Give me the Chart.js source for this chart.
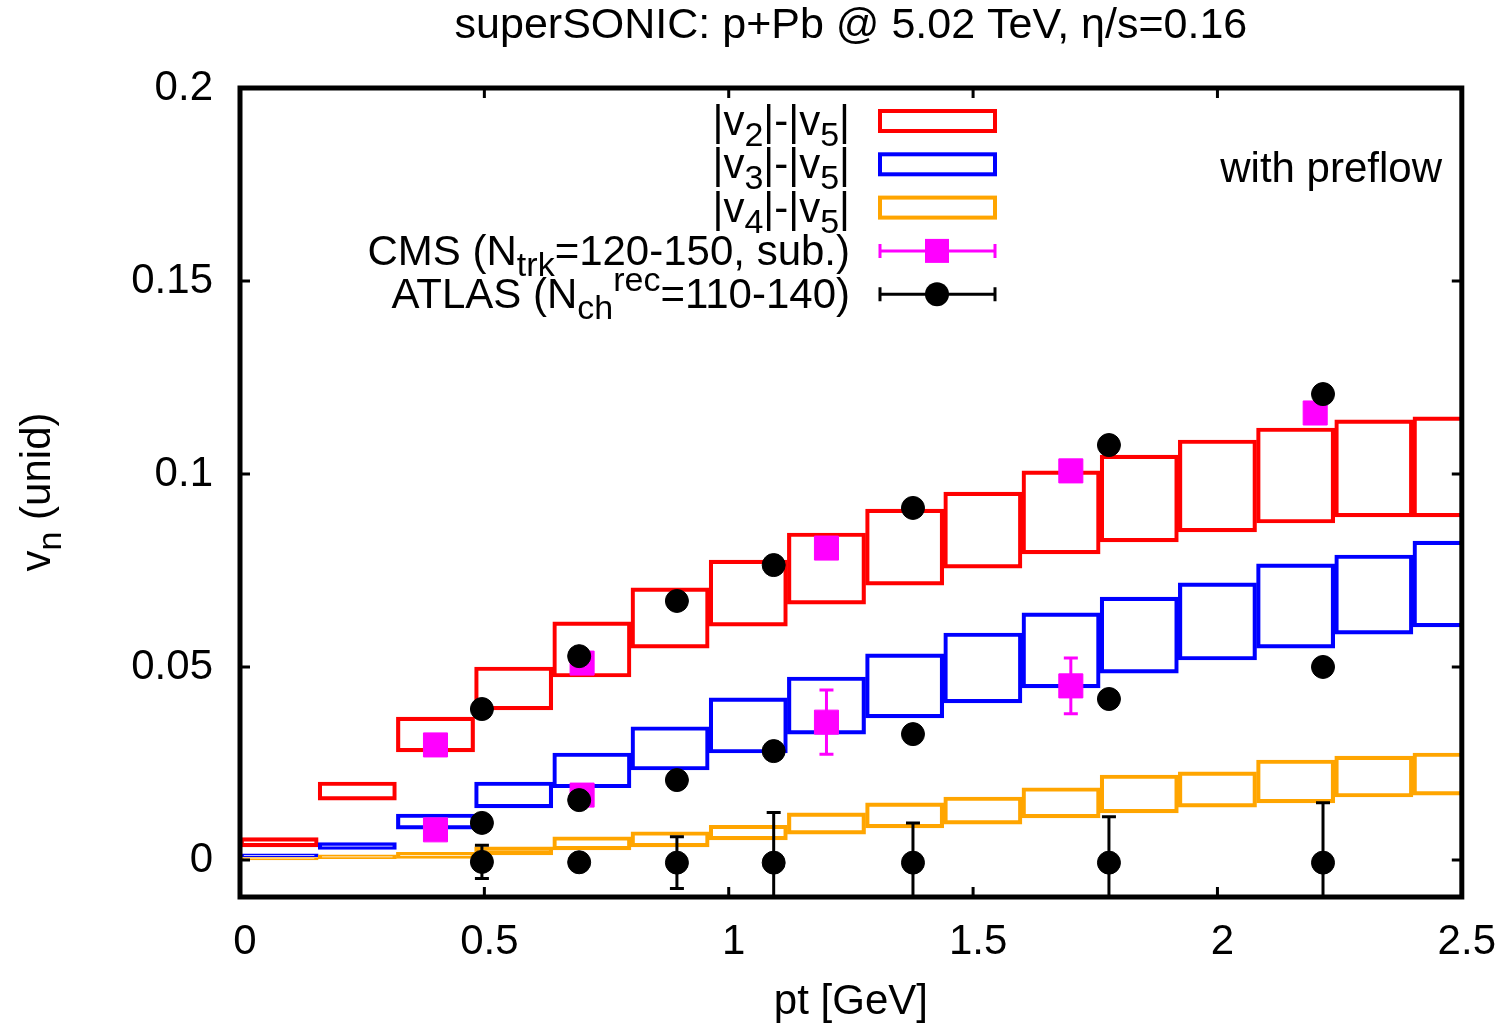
<!DOCTYPE html>
<html>
<head>
<meta charset="utf-8">
<title>superSONIC p+Pb vn</title>
<script src="https://cdn.jsdelivr.net/npm/chart.js@4.4.1/dist/chart.umd.min.js"></script>
<style>
  html, body { margin: 0; padding: 0; background: #ffffff; }
  #wrap { width: 1503px; height: 1028px; }
</style>
</head>
<body>
<div id="wrap"><canvas id="c" width="1503" height="1028"></canvas></div>
<script>
// pt bin centres of the hydro output (bin width 0.16 GeV)
const ptBins = [0.08, 0.24, 0.40, 0.56, 0.72, 0.88, 1.04, 1.20, 1.36, 1.52, 1.68, 1.84, 2.00, 2.16, 2.32, 2.48];

// model bands: lower / upper edge per bin
const v2Lo = [0.0034, 0.0155, 0.0280, 0.0389, 0.0474, 0.0549, 0.0606, 0.0663, 0.0712, 0.0756, 0.0793, 0.0824, 0.0850, 0.0873, 0.0889, 0.0889];
const v2Hi = [0.0058, 0.0202, 0.0370, 0.0500, 0.0617, 0.0705, 0.0777, 0.0847, 0.0909, 0.0953, 0.1008, 0.1049, 0.1088, 0.1119, 0.1140, 0.1148];
const v3Lo = [0.0008, 0.0027, 0.0080, 0.0135, 0.0187, 0.0233, 0.0277, 0.0326, 0.0368, 0.0407, 0.0446, 0.0484, 0.0518, 0.0549, 0.0585, 0.0604];
const v3Hi = [0.0016, 0.0045, 0.0119, 0.0202, 0.0277, 0.0345, 0.0420, 0.0474, 0.0534, 0.0588, 0.0640, 0.0681, 0.0718, 0.0767, 0.0790, 0.0826];
const v4Lo = [0.0000, 0.0003, 0.0004, 0.0013, 0.0026, 0.0034, 0.0052, 0.0067, 0.0083, 0.0093, 0.0109, 0.0122, 0.0137, 0.0148, 0.0163, 0.0168];
const v4Hi = [0.0006, 0.0013, 0.0020, 0.0034, 0.0060, 0.0073, 0.0090, 0.0122, 0.0148, 0.0163, 0.0187, 0.0220, 0.0228, 0.0259, 0.0269, 0.0277];

// CMS (Ntrk = 120-150, subtracted)
const cmsPtV2 = [0.4, 0.7, 1.2, 1.7, 2.2];
const cmsV2 = [0.0298, 0.0510, 0.0808, 0.1008, 0.1158];
const cmsV2Err = [0, 0, 0, 0, 0];
const cmsPtV3 = [0.4, 0.7, 1.2, 1.7];
const cmsV3 = [0.0078, 0.0168, 0.0357, 0.0451];
const cmsV3Err = [0, 0, 0.0083, 0.0072];

// ATLAS (Nch rec = 110-140)
const atlasPt = [0.495, 0.694, 0.894, 1.092, 1.377, 1.778, 2.216];
const atlasV2 = [0.0391, 0.0528, 0.0671, 0.0764, 0.0912, 0.1075, 0.1207];
const atlasV3 = [0.0096, 0.0155, 0.0207, 0.0282, 0.0326, 0.0417, 0.0500];
const atlasV4 = [-0.0005, -0.0006, -0.0007, -0.0007, -0.0007, -0.0007, -0.0007];
const atlasV4Err = [0.0043, 0.0015, 0.0067, 0.0130, 0.0103, 0.0119, 0.0155];
const atlasZeroErr = [0, 0, 0, 0, 0, 0, 0];

// axes
const xTicks = [0, 0.5, 1, 1.5, 2, 2.5];
const xTickLabels = ['0', '0.5', '1', '1.5', '2', '2.5'];
const yTicks = [0, 0.05, 0.1, 0.15, 0.2];
const yTickLabels = ['0', '0.05', '0.1', '0.15', '0.2'];

const RED = '#ff0000', BLUE = '#0000ff', ORANGE = '#ffa500', MAGENTA = '#ff00ff', BLACK = '#000000';
const FONT = '"Liberation Sans", Arial, Helvetica, sans-serif';
const FS = 42;

function band(label, lo, hi, color, order) {
  return {
    type: 'bar', label, order,
    data: ptBins.map((x, i) => ({ x, y: [lo[i], hi[i]] })),
    backgroundColor: 'rgba(0,0,0,0)',
    borderColor: color, borderWidth: 3.5, borderSkipped: false,
    grouped: false, barPercentage: 1, categoryPercentage: 1
  };
}
function points(label, xs, ys, errs, style, radius, color, order) {
  return {
    type: 'scatter', label, order,
    data: xs.map((x, i) => ({ x, y: ys[i] })),
    errorBars: errs,
    pointStyle: style, pointRadius: radius, pointHoverRadius: radius,
    backgroundColor: color, borderColor: color, borderWidth: 1
  };
}

// rich text: parts = [[text, kind]] kind 0 normal, 1 subscript, 2 superscript
function partFont(kind) { return (kind ? Math.round(FS * 0.8) : FS) + 'px ' + FONT; }
function richWidth(ctx, parts) {
  let w = 0;
  for (const [t, k] of parts) { ctx.font = partFont(k); w += ctx.measureText(t).width; }
  return w;
}
function drawRich(ctx, parts, x, baseline) {
  ctx.textAlign = 'left';
  ctx.textBaseline = 'alphabetic';
  for (const [t, k] of parts) {
    ctx.font = partFont(k);
    const dy = k === 1 ? 11 : (k === 2 ? -17 : 0);
    ctx.fillText(t, x, baseline + dy);
    x += ctx.measureText(t).width;
  }
}

const legendRows = [
  { parts: [['|v', 0], ['2', 1], ['|-|v', 0], ['5', 1], ['|', 0]], kind: 'box', color: RED },
  { parts: [['|v', 0], ['3', 1], ['|-|v', 0], ['5', 1], ['|', 0]], kind: 'box', color: BLUE },
  { parts: [['|v', 0], ['4', 1], ['|-|v', 0], ['5', 1], ['|', 0]], kind: 'box', color: ORANGE },
  { parts: [['CMS (N', 0], ['trk', 1], ['=120-150, sub.)', 0]], kind: 'rect', color: MAGENTA },
  { parts: [['ATLAS (N', 0], ['ch', 1], ['rec', 2], ['=110-140)', 0]], kind: 'circle', color: BLACK }
];

const framePlugin = {
  id: 'frame',
  beforeDatasetDraw(chart, args) {
    const ds = chart.data.datasets[args.index];
    if (!ds.errorBars) return;
    const { ctx, chartArea: a, scales: { x, y } } = chart;
    ctx.save();
    ctx.beginPath(); ctx.rect(a.left, a.top, a.right - a.left, a.bottom - a.top); ctx.clip();
    ctx.strokeStyle = ds.borderColor; ctx.lineWidth = 3;
    ds.data.forEach((p, i) => {
      const e = ds.errorBars[i];
      if (!e) return;
      const px = x.getPixelForValue(p.x);
      const yt = y.getPixelForValue(p.y + e), yb = y.getPixelForValue(p.y - e);
      ctx.beginPath();
      ctx.moveTo(px, yt); ctx.lineTo(px, yb);
      ctx.moveTo(px - 7, yt); ctx.lineTo(px + 7, yt);
      ctx.moveTo(px - 7, yb); ctx.lineTo(px + 7, yb);
      ctx.stroke();
    });
    ctx.restore();
  },
  afterDatasetsDraw(chart) {
    const { ctx, chartArea: a, scales: { x, y } } = chart;
    ctx.save();
    // inward tick marks on all four sides
    ctx.strokeStyle = BLACK; ctx.lineWidth = 3;
    const tl = 10;
    ctx.beginPath();
    xTicks.forEach(v => {
      const px = x.getPixelForValue(v);
      ctx.moveTo(px, a.bottom); ctx.lineTo(px, a.bottom - tl);
      ctx.moveTo(px, a.top); ctx.lineTo(px, a.top + tl);
    });
    yTicks.forEach(v => {
      const py = y.getPixelForValue(v);
      ctx.moveTo(a.left, py); ctx.lineTo(a.left + tl, py);
      ctx.moveTo(a.right, py); ctx.lineTo(a.right - tl, py);
    });
    ctx.stroke();
    // plot border
    ctx.lineWidth = 5;
    ctx.strokeRect(a.left, a.top, a.right - a.left, a.bottom - a.top);
    ctx.restore();
  },
  afterDraw(chart) {
    const { ctx } = chart;
    ctx.save();
    ctx.fillStyle = BLACK;
    // key
    const textRight = 850, sx0 = 880, sx1 = 995, sxm = 937;
    legendRows.forEach((row, i) => {
      const cy = 121 + i * 43.3;
      const w = richWidth(ctx, row.parts);
      ctx.fillStyle = BLACK;
      drawRich(ctx, row.parts, textRight - w, cy + 14);
      if (row.kind === 'box') {
        ctx.strokeStyle = row.color; ctx.lineWidth = 4;
        ctx.strokeRect(sx0, cy - 10, sx1 - sx0, 20);
      } else {
        ctx.strokeStyle = row.color; ctx.fillStyle = row.color; ctx.lineWidth = 3;
        ctx.beginPath();
        ctx.moveTo(sx0, cy); ctx.lineTo(sx1, cy);
        ctx.moveTo(sx0, cy - 7); ctx.lineTo(sx0, cy + 7);
        ctx.moveTo(sx1, cy - 7); ctx.lineTo(sx1, cy + 7);
        ctx.stroke();
        ctx.beginPath();
        if (row.kind === 'rect') ctx.rect(sxm - 12, cy - 12, 24, 24);
        else ctx.arc(sxm, cy, 12, 0, Math.PI * 2);
        ctx.fill();
      }
    });
    // annotation
    ctx.fillStyle = BLACK;
    ctx.font = FS + 'px ' + FONT;
    ctx.textAlign = 'right'; ctx.textBaseline = 'alphabetic';
    ctx.fillText('with preflow', 1442, 182);
    // y-axis title with subscript
    const yParts = [['v', 0], ['n', 1], [' (unid)', 0]];
    const yw = richWidth(ctx, yParts);
    ctx.translate(50, 492);
    ctx.rotate(-Math.PI / 2);
    drawRich(ctx, yParts, -yw / 2, 0);
    ctx.restore();
  }
};

new Chart(document.getElementById('c'), {
  type: 'bar',
  data: {
    datasets: [
      points('ATLAS v2', atlasPt, atlasV2, atlasZeroErr, 'circle', 11.5, BLACK, 0),
      points('ATLAS v3', atlasPt, atlasV3, atlasZeroErr, 'circle', 11.5, BLACK, 0),
      points('ATLAS v4', atlasPt, atlasV4, atlasV4Err, 'circle', 11.5, BLACK, 0),
      points('CMS v2', cmsPtV2, cmsV2, cmsV2Err, 'rect', 17, MAGENTA, 1),
      points('CMS v3', cmsPtV3, cmsV3, cmsV3Err, 'rect', 17, MAGENTA, 1),
      band('|v4|-|v5|', v4Lo, v4Hi, ORANGE, 2),
      band('|v3|-|v5|', v3Lo, v3Hi, BLUE, 3),
      band('|v2|-|v5|', v2Lo, v2Hi, RED, 4)
    ]
  },
  options: {
    responsive: false,
    animation: false,
    events: [],
    layout: { padding: { left: 0, right: 41, top: 0, bottom: 0 } },
    plugins: {
      legend: { display: false },
      tooltip: { enabled: false },
      title: {
        display: true, fullSize: false,
        text: 'superSONIC: p+Pb @ 5.02 TeV, η/s=0.16',
        color: BLACK, font: { family: FONT, size: 43, weight: 'normal', lineHeight: 1.2 },
        padding: { top: 0, bottom: 36.4 }
      }
    },
    scales: {
      x: {
        type: 'linear', min: 0, max: 2.5, offset: false,
        grid: { display: false, offset: false },
        border: { display: false },
        afterBuildTicks: s => { s.ticks = xTicks.map(v => ({ value: v })); },
        afterFit: s => { s.height = 131; },
        ticks: {
          color: BLACK, padding: 12, labelOffset: 5, maxRotation: 0, autoSkip: false,
          font: { family: FONT, size: FS },
          callback: (v, i) => xTickLabels[i]
        },
        title: {
          display: true, text: 'pt [GeV]', color: BLACK,
          font: { family: FONT, size: FS, lineHeight: 1.2 },
          padding: { top: 0, bottom: 0 }
        }
      },
      y: {
        type: 'linear', min: -0.0096, max: 0.2,
        grid: { display: false },
        border: { display: false },
        afterBuildTicks: s => { s.ticks = yTicks.map(v => ({ value: v })); },
        afterFit: s => { s.width = 240; },
        ticks: {
          color: BLACK, padding: 19, autoSkip: false,
          font: { family: FONT, size: FS },
          callback: (v, i) => yTickLabels[i]
        }
      }
    }
  },
  plugins: [framePlugin]
});
</script>
</body>
</html>
